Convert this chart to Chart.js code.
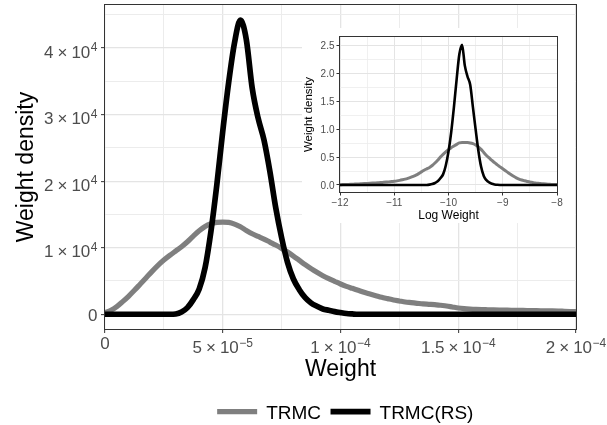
<!DOCTYPE html>
<html><head><meta charset="utf-8">
<script src="https://cdn.jsdelivr.net/npm/chart.js@4.4.1/dist/chart.umd.min.js"></script>
<style>
html,body{margin:0;padding:0;background:#fff;}
#wrap{position:relative;width:607px;height:425px;overflow:hidden;background:#fff;}
#main{position:absolute;left:0;top:0;}
#inset{position:absolute;left:302px;top:28px;}
</style></head><body>
<div id="wrap"><canvas id="main" width="607" height="425"></canvas><canvas id="inset" width="273" height="195"></canvas></div>
<script>
// ---------------- DATA ----------------
const seriesNames = ['TRMC', 'TRMC(RS)'];

// main plot: weight grid
const weightX = [0, 2.5e-6, 5e-6, 7.5e-6, 1.0e-5, 1.25e-5, 1.5e-5, 1.75e-5, 2.0e-5, 2.25e-5,
  2.5e-5, 2.75e-5, 3.0e-5, 3.25e-5, 3.5e-5, 3.75e-5, 4.0e-5, 4.25e-5, 4.5e-5, 4.75e-5,
  5.0e-5, 5.25e-5, 5.5e-5, 5.75e-5, 6.0e-5, 6.25e-5, 6.5e-5, 6.75e-5, 7.0e-5, 7.25e-5,
  7.5e-5, 7.75e-5, 8.0e-5, 8.25e-5, 8.5e-5, 8.75e-5, 9.0e-5, 9.25e-5, 9.5e-5, 9.75e-5,
  1.0e-4, 1.025e-4, 1.05e-4, 1.075e-4, 1.1e-4, 1.125e-4, 1.15e-4, 1.175e-4, 1.2e-4, 1.225e-4,
  1.25e-4, 1.275e-4, 1.3e-4, 1.325e-4, 1.35e-4, 1.375e-4, 1.4e-4, 1.425e-4, 1.45e-4, 1.475e-4,
  1.5e-4, 1.525e-4, 1.55e-4, 1.575e-4, 1.6e-4, 1.625e-4, 1.65e-4, 1.675e-4, 1.7e-4, 1.725e-4,
  1.75e-4, 1.775e-4, 1.8e-4, 1.825e-4, 1.85e-4, 1.875e-4, 1.9e-4, 1.925e-4, 1.95e-4, 1.975e-4,
  2.0e-4];

const trmcDensity = [250, 600, 1150, 1900, 2700, 3600, 4550, 5500, 6450, 7350,
  8150, 8850, 9500, 10150, 10900, 11750, 12550, 13200, 13600, 13800,
  13850, 13800, 13550, 13150, 12600, 12100, 11700, 11300, 10850, 10400,
  9900, 9350, 8750, 8100, 7450, 6850, 6300, 5800, 5350, 4950,
  4550, 4200, 3900, 3600, 3300, 3050, 2800, 2550, 2350, 2150,
  2000, 1850, 1750, 1650, 1550, 1500, 1450, 1350, 1250, 1100,
  950, 850, 780, 730, 700, 680, 660, 640, 620, 600,
  590, 580, 560, 540, 520, 510, 500, 480, 450, 420,
  390];

const rsDensity = [0, 0, 0, 0, 0, 0, 0, 0, 0, 0,
  0, 0, 50, 350, 1000, 2200, 3800, 7000, 12500, 19500,
  27500, 34800, 40800, 44200, 41300, 34000, 29500, 26200, 21500, 16000,
  11500, 7800, 5300, 3700, 2500, 1700, 1200, 800, 600, 400,
  250, 120, 50, 0, 0, 0, 0, 0, 0, 0,
  0, 0, 0, 0, 0, 0, 0, 0, 0, 0,
  0, 0, 0, 0, 0, 0, 0, 0, 0, 0,
  0, 0, 0, 0, 0, 0, 0, 0, 0, 0,
  0];

const xMajorTicks = [0, 5e-5, 1e-4, 1.5e-4, 2e-4];
const xMinorTicks = [2.5e-5, 7.5e-5, 1.25e-4, 1.75e-4];
const xTickMant = ['0', '5', '1', '1.5', '2'];
const xTickExp = ['', '\u22125', '\u22124', '\u22124', '\u22124'];
const yMajorTicks = [0, 10000, 20000, 30000, 40000];
const yMinorTicks = [5000, 15000, 25000, 35000, 45000];
const yTickMant = ['0', '1', '2', '3', '4'];
const yTickExp = ['', '4', '4', '4', '4'];

// inset: log weight grid
const logX = [-12, -11.95, -11.9, -11.85, -11.8, -11.75, -11.7, -11.65, -11.6, -11.55,
  -11.5, -11.45, -11.4, -11.35, -11.3, -11.25, -11.2, -11.15, -11.1, -11.05,
  -11, -10.95, -10.9, -10.85, -10.8, -10.75, -10.7, -10.65, -10.6, -10.55,
  -10.5, -10.45, -10.4, -10.35, -10.3, -10.25, -10.2, -10.15, -10.1, -10.05,
  -10, -9.95, -9.9, -9.85, -9.8, -9.75, -9.7, -9.65, -9.6, -9.55,
  -9.5, -9.45, -9.4, -9.35, -9.3, -9.25, -9.2, -9.15, -9.1, -9.05,
  -9, -8.95, -8.9, -8.85, -8.8, -8.75, -8.7, -8.65, -8.6, -8.55,
  -8.5, -8.45, -8.4, -8.35, -8.3, -8.25, -8.2, -8.15, -8.1, -8.05,
  -8];

const trmcLogDensity = [0.005, 0.006, 0.008, 0.010, 0.012, 0.014, 0.017, 0.019, 0.022, 0.025,
  0.028, 0.031, 0.034, 0.037, 0.040, 0.043, 0.047, 0.051, 0.055, 0.060,
  0.066, 0.073, 0.082, 0.093, 0.105, 0.119, 0.135, 0.154, 0.175, 0.203,
  0.235, 0.265, 0.290, 0.315, 0.350, 0.395, 0.445, 0.500, 0.550, 0.595,
  0.635, 0.670, 0.700, 0.730, 0.755, 0.765, 0.765, 0.762, 0.755, 0.742,
  0.720, 0.685, 0.640, 0.585, 0.530, 0.485, 0.440, 0.400, 0.360, 0.325,
  0.290, 0.255, 0.220, 0.187, 0.155, 0.128, 0.105, 0.088, 0.075, 0.063,
  0.052, 0.044, 0.036, 0.030, 0.025, 0.020, 0.016, 0.013, 0.010, 0.008,
  0.007];

const rsLogDensity = [0, 0, 0, 0, 0, 0, 0, 0, 0, 0,
  0, 0, 0, 0, 0, 0, 0, 0, 0, 0,
  0, 0, 0, 0, 0, 0, 0, 0, 0, 0,
  0, 0, 0, 0.005, 0.015, 0.035, 0.065, 0.12, 0.19, 0.35,
  0.60, 0.95, 1.40, 1.90, 2.35, 2.52, 2.15, 1.95, 1.80, 1.40,
  1.00, 0.62, 0.33, 0.16, 0.085, 0.045, 0.02, 0.008, 0.002, 0,
  0, 0, 0, 0, 0, 0, 0, 0, 0, 0,
  0, 0, 0, 0, 0, 0, 0, 0, 0, 0,
  0];

const insetXMajor = [-12, -11, -10, -9, -8];
const insetXMinor = [-11.5, -10.5, -9.5, -8.5];
const insetXLabels = ['\u221212', '\u221211', '\u221210', '\u22129', '\u22128'];
const insetYMajor = [0, 0.5, 1, 1.5, 2, 2.5];
const insetYMinor = [0.25, 0.75, 1.25, 1.75, 2.25];
const insetYLabels = ['0.0', '0.5', '1.0', '1.5', '2.0', '2.5'];

const seriesColors = ['#7f7f7f', '#000000'];

// ---------------- HELPERS ----------------
const FONT = '"Liberation Sans", Arial, Helvetica, sans-serif';
const TICK_COL = '#4d4d4d';

function tickObjs(major, minor) {
  return major.map(v => ({value: v, major: true})).concat(minor.map(v => ({value: v, major: false})));
}
function gridOpts(tickLen, majW, minW) {
  return {
    drawTicks: true, tickLength: tickLen,
    color: c => (c.tick && c.tick.major) ? '#e4e4e4' : '#ececec',
    lineWidth: c => (c.tick && c.tick.major) ? majW : minW,
    tickColor: c => (c.tick && c.tick.major) ? '#333333' : 'rgba(0,0,0,0)',
    tickWidth: 1
  };
}
function drawSci(ctx, mant, exp, x, baseY, align, o) {
  ctx.save();
  ctx.fillStyle = o.color;
  ctx.textBaseline = 'alphabetic';
  ctx.textAlign = 'left';
  const fb = o.base + 'px ' + FONT, fe = o.expSize + 'px ' + FONT;
  ctx.font = fb;
  if (!exp) {
    const w = ctx.measureText(mant).width;
    const sx = align === 'center' ? x - w / 2 : align === 'right' ? x - w : x;
    ctx.fillText(mant, sx, baseY);
    ctx.restore();
    return;
  }
  const wm = ctx.measureText(mant).width, wx = ctx.measureText('\u00d7').width, w10 = ctx.measureText('10').width;
  ctx.font = fe;
  const we = ctx.measureText(exp).width;
  const total = wm + o.gap + wx + o.gap + w10 + o.egap + we;
  let sx = align === 'center' ? x - total / 2 : align === 'right' ? x - total : x;
  ctx.font = fb;
  ctx.fillText(mant, sx, baseY); sx += wm + o.gap;
  ctx.fillText('\u00d7', sx, baseY); sx += wx + o.gap;
  ctx.fillText('10', sx, baseY); sx += w10 + o.egap;
  ctx.font = fe;
  ctx.fillText(exp, sx, baseY - o.raise);
  ctx.restore();
}
function rotText(ctx, text, x, y, size, color) {
  ctx.save();
  ctx.translate(x, y);
  ctx.rotate(-Math.PI / 2);
  ctx.font = size + 'px ' + FONT;
  ctx.fillStyle = color;
  ctx.textAlign = 'center';
  ctx.textBaseline = 'alphabetic';
  ctx.fillText(text, 0, 0);
  ctx.restore();
}
function borderBox(ctx, a) {
  ctx.save();
  ctx.strokeStyle = '#333333';
  ctx.lineWidth = 1;
  const l = Math.round(a.left) - 0.5, t = Math.round(a.top) - 0.5;
  const r = Math.round(a.right) + 0.5, b = Math.round(a.bottom) + 0.5;
  ctx.strokeRect(l, t, r - l, b - t);
  ctx.restore();
}
const whiteBg = {
  id: 'whiteBg',
  beforeDraw(chart) {
    const c = chart.ctx;
    c.save(); c.fillStyle = '#ffffff'; c.fillRect(0, 0, chart.width, chart.height); c.restore();
  }
};

// ---------------- MAIN CHART ----------------
const mainDecor = {
  id: 'mainDecor',
  afterDraw(chart) {
    const ctx = chart.ctx, a = chart.chartArea;
    const xs = chart.scales.x, ys = chart.scales.y;
    borderBox(ctx, a);
    const so = {color: TICK_COL, base: 17, expSize: 12, gap: 4, egap: 0.5, raise: 6.5};
    yMajorTicks.forEach((v, i) => {
      const y = ys.getPixelForValue(v);
      drawSci(ctx, yTickMant[i], yTickExp[i], 97.5, y + (yTickExp[i] ? 9.6 : 6.3), 'right', so);
    });
    xMajorTicks.forEach((v, i) => {
      const x = xs.getPixelForValue(v);
      drawSci(ctx, xTickMant[i], xTickExp[i], x, xTickExp[i] ? 353 : 348.5, 'center', so);
    });
    // titles
    ctx.save();
    ctx.font = '23px ' + FONT; ctx.fillStyle = '#000'; ctx.textAlign = 'center'; ctx.textBaseline = 'alphabetic';
    ctx.fillText('Weight', (a.left + a.right) / 2, 376);
    ctx.restore();
    rotText(ctx, 'Weight density', 33, (a.top + a.bottom) / 2, 23, '#000');
    // legend
    ctx.save();
    ctx.font = '19px ' + FONT;
    const ds = chart.data.datasets;
    const keyW = 40, kgap = 9, igap = 9.5;
    let total = 0;
    ds.forEach((d, i) => { total += keyW + kgap + ctx.measureText(d.label).width + (i < ds.length - 1 ? igap : 0); });
    let x = 345.3 - total / 2;
    const cy = 411.7;
    ds.forEach((d, i) => {
      ctx.strokeStyle = d.borderColor; ctx.lineWidth = d.borderWidth; ctx.lineCap = 'butt';
      ctx.beginPath(); ctx.moveTo(x, cy); ctx.lineTo(x + keyW, cy); ctx.stroke();
      x += keyW + kgap;
      ctx.fillStyle = '#000'; ctx.textBaseline = 'alphabetic'; ctx.textAlign = 'left';
      ctx.fillText(d.label, x, cy + 6.8);
      x += ctx.measureText(d.label).width + igap;
    });
    ctx.restore();
  }
};

new Chart(document.getElementById('main'), {
  type: 'line',
  data: {
    datasets: [
      {label: seriesNames[0], data: weightX.map((x, i) => ({x: x, y: trmcDensity[i]})),
       borderColor: seriesColors[0], borderWidth: 5.2, pointRadius: 0, cubicInterpolationMode: 'monotone',
       borderJoinStyle: 'round', fill: false, clip: 0, order: 1},
      {label: seriesNames[1], data: weightX.map((x, i) => ({x: x, y: rsDensity[i]})),
       borderColor: seriesColors[1], borderWidth: 5.7, pointRadius: 0, cubicInterpolationMode: 'monotone',
       borderJoinStyle: 'round', fill: false, clip: 0, order: 0}
    ]
  },
  options: {
    responsive: false, animation: false, devicePixelRatio: 1, events: [],
    layout: {padding: {top: 5, right: 31, bottom: 0, left: 0}},
    plugins: {legend: {display: false}, tooltip: {enabled: false}},
    scales: {
      x: {type: 'linear', min: 0, max: 2e-4,
          afterBuildTicks: s => { s.ticks = tickObjs(xMajorTicks, xMinorTicks); },
          ticks: {display: false}, border: {display: false}, grid: gridOpts(4, 1.3, 1),
          afterFit: s => { s.height = 96; s.paddingLeft = 0; s.paddingRight = 0; }},
      y: {type: 'linear', min: -2213, max: 46473,
          afterBuildTicks: s => { s.ticks = tickObjs(yMajorTicks, yMinorTicks); },
          ticks: {display: false}, border: {display: false}, grid: gridOpts(4, 1.3, 1),
          afterFit: s => { s.width = 105; s.paddingTop = 0; s.paddingBottom = 0; }}
    }
  },
  plugins: [whiteBg, mainDecor]
});

// ---------------- INSET CHART ----------------
const insetDecor = {
  id: 'insetDecor',
  afterDraw(chart) {
    const ctx = chart.ctx, a = chart.chartArea;
    const xs = chart.scales.x, ys = chart.scales.y;
    borderBox(ctx, a);
    ctx.save();
    ctx.font = '10px ' + FONT; ctx.fillStyle = TICK_COL; ctx.textBaseline = 'alphabetic';
    ctx.textAlign = 'right';
    insetYMajor.forEach((v, i) => { ctx.fillText(insetYLabels[i], 32.5, ys.getPixelForValue(v) + 3.6); });
    ctx.textAlign = 'center';
    insetXMajor.forEach((v, i) => { ctx.fillText(insetXLabels[i], xs.getPixelForValue(v), 177.6); });
    ctx.font = '12px ' + FONT; ctx.fillStyle = '#000';
    ctx.fillText('Log Weight', (a.left + a.right) / 2, 191.3);
    ctx.restore();
    rotText(ctx, 'Weight density', 10, (a.top + a.bottom) / 2, 11.5, '#000');
  }
};

new Chart(document.getElementById('inset'), {
  type: 'line',
  data: {
    datasets: [
      {label: seriesNames[0], data: logX.map((x, i) => ({x: x, y: trmcLogDensity[i]})),
       borderColor: seriesColors[0], borderWidth: 3, pointRadius: 0, cubicInterpolationMode: 'monotone',
       borderJoinStyle: 'round', fill: false, clip: 0, order: 1},
      {label: seriesNames[1], data: logX.map((x, i) => ({x: x, y: rsLogDensity[i]})),
       borderColor: seriesColors[1], borderWidth: 2.6, pointRadius: 0, cubicInterpolationMode: 'monotone',
       borderJoinStyle: 'round', fill: false, clip: 0, order: 0}
    ]
  },
  options: {
    responsive: false, animation: false, devicePixelRatio: 1, events: [],
    layout: {padding: {top: 9, right: 18, bottom: 0, left: 0}},
    plugins: {legend: {display: false}, tooltip: {enabled: false}},
    scales: {
      x: {type: 'linear', min: -12, max: -8,
          afterBuildTicks: s => { s.ticks = tickObjs(insetXMajor, insetXMinor); },
          ticks: {display: false}, border: {display: false}, grid: gridOpts(3.5, 1, 0.8),
          afterFit: s => { s.height = 31; s.paddingLeft = 0; s.paddingRight = 0; }},
      y: {type: 'linear', min: -0.127, max: 2.66,
          afterBuildTicks: s => { s.ticks = tickObjs(insetYMajor, insetYMinor); },
          ticks: {display: false}, border: {display: false}, grid: gridOpts(3.5, 1, 0.8),
          afterFit: s => { s.width = 38; s.paddingTop = 0; s.paddingBottom = 0; }}
    }
  },
  plugins: [whiteBg, insetDecor]
});
</script>
</body></html>
